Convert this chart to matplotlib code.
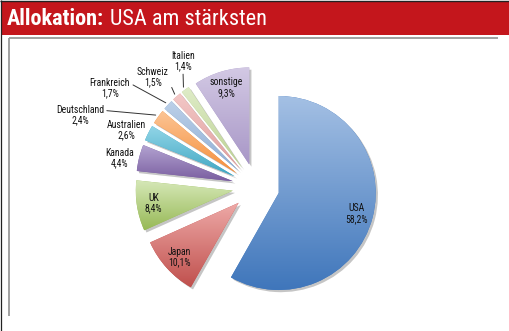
import matplotlib

matplotlib.use('Agg')
import matplotlib.pyplot as plt
import numpy as np
from matplotlib import font_manager as fm
from matplotlib.colors import LinearSegmentedColormap
from matplotlib.patches import Wedge, Rectangle

W, H = 509, 331  # Bildgröße in Pixel

# Daten
laender = ['USA', 'Japan', 'UK', 'Kanada', 'Australien', 'Deutschland',
           'Frankreich', 'Schweiz', 'Italien', 'sonstige']
anteile = [58.2, 10.1, 8.4, 4.4, 2.6, 2.4, 1.7, 1.5, 1.4, 9.3]

# Verlauf je Segment: oben hell, unten dunkel
farbe_hell = ['#a4c0e4', '#eeaaa8', '#d6e8b8', '#b4a5d2', '#93d6e8',
              '#fcc596', '#bcd0e8', '#f3c8c7', '#dfecc8', '#d3c9e4']
farbe_dunkel = ['#3f76bb', '#c0504d', '#97b956', '#7a5ea0', '#3fa6c2',
                '#f58f3c', '#8eaed5', '#df9e9d', '#bcd293', '#a897c7']

# Beschriftung: innen im Segment, sonst feste Textposition in Pixel
# (mit oder ohne Führungslinie)
innen = ['USA', 'Japan', 'UK', 'sonstige']
frei = {'Kanada': (120, 158), 'Australien': (126, 130)}
fuehrung = {'Deutschland': ((80, 115), (1.0, 0.72)),
            'Frankreich': ((110, 88), (1.0, 0.72)),
            'Schweiz': ((153, 77), (1.0, 0.3)),
            'Italien': ((183, 61), (0.5, 0.0))}

avail = {f.name for f in fm.fontManager.ttflist}
schrift = next((n for n in ('Liberation Sans Narrow', 'Roboto Condensed',
                            'Open Sans Condensed') if n in avail), 'DejaVu Sans')
plt.rcParams['font.family'] = [schrift, 'DejaVu Sans']


def py(y):
    # Bildkoordinate (von oben) -> Datenkoordinate (von unten)
    return H - y


fig = plt.figure(figsize=(W / 100, H / 100), dpi=100)
ax = fig.add_axes([0, 0, 1, 1])

# Rahmen und Titelbalken
ax.add_patch(Rectangle((2, py(35)), W - 2, 34, facecolor='#c4161c', lw=0, zorder=0))
ax.plot([0, W], [py(0.5), py(0.5)], color='#222222', lw=1.0, solid_capstyle='butt')
ax.plot([1.5, 1.5], [0, H], color='#222222', lw=0.9, solid_capstyle='butt')
ax.plot([9, 498], [py(38), py(38)], color='#9a9a9a', lw=1.3, solid_capstyle='butt')
ax.plot([9.5, 9.5], [py(38), py(316)], color='#9a9a9a', lw=1.3, solid_capstyle='butt')

t1 = ax.text(7, py(19), 'Allokation:', fontsize=16, fontweight='bold',
             color='white', va='center', ha='left')
ax.annotate('USA am stärksten', xy=(1, 0), xycoords=t1, xytext=(4, 0),
            textcoords='offset points', fontsize=16, color='white',
            va='bottom', ha='left')

# Kreisdiagramm
radius = 97
wedges, _ = ax.pie(anteile, startangle=90, counterclock=False,
                   center=(256, py(187)), radius=radius,
                   explode=[23.5] * len(anteile), wedgeprops=dict(linewidth=0))

grad = np.linspace(0, 1, 256).reshape(-1, 1)
for w, name, wert, hell, dunkel in zip(wedges, laender, anteile, farbe_hell, farbe_dunkel):
    w.set_facecolor(dunkel)
    w.set_zorder(2)
    # Schatten
    ax.add_patch(Wedge((w.center[0] + 2.2, w.center[1] - 2.2), w.r, w.theta1, w.theta2,
                       facecolor='#808080', alpha=0.45, lw=0, zorder=1))
    # Farbverlauf
    bb = w.get_path().get_extents()
    cmap = LinearSegmentedColormap.from_list('v_' + name, [dunkel, hell])
    im = ax.imshow(grad, extent=[bb.x0, bb.x1, bb.y0, bb.y1], origin='lower',
                   cmap=cmap, aspect='auto', interpolation='bilinear', zorder=2.5)
    im.set_clip_path(w)

    text = f"{name}\n{wert:.1f}%".replace('.', ',')
    mitte = np.deg2rad((w.theta1 + w.theta2) / 2)
    cx, cy = w.center
    stil = dict(fontsize=7, color='#111111', ha='center', va='center',
                linespacing=1.1, zorder=5)
    if name in fuehrung:
        pos, rel = fuehrung[name]
        ziel = (cx + 1.03 * radius * np.cos(mitte), cy + 1.03 * radius * np.sin(mitte))
        ax.annotate(text, xy=ziel, xytext=(pos[0], py(pos[1])),
                    arrowprops=dict(arrowstyle='-', color='#333333', lw=0.7,
                                    shrinkA=0, shrinkB=0, relpos=rel),
                    **stil)
    elif name in frei:
        ax.text(frei[name][0], py(frei[name][1]), text, **stil)
    else:
        ax.text(cx + 0.83 * radius * np.cos(mitte), cy + 0.83 * radius * np.sin(mitte),
                text, **stil)

ax.set_xlim(0, W)
ax.set_ylim(0, H)
ax.set_aspect('equal')
ax.axis('off')

plt.savefig('out.png', dpi=100)
plt.close(fig)
